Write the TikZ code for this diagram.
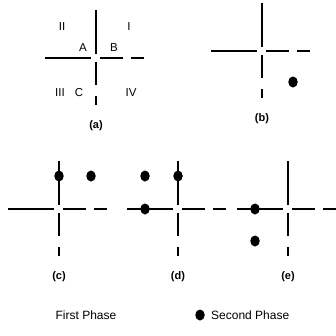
\documentclass[tikz,border=0pt]{standalone}
\usepackage{fontspec}
\setmainfont{Liberation Sans}
\usetikzlibrary{shapes.geometric}

\tikzset{
  arm/.style={line width=1.6pt},
  phasedot/.style={ellipse, fill=black, inner sep=0pt, minimum width=9.5pt, minimum height=11pt},
  quad/.style={font=\fontsize{11.5}{11.5}\selectfont},
  panel/.style={font=\fontsize{11}{11}\selectfont\bfseries},
  legend/.style={font=\fontsize{12}{12}\selectfont}
}

\begin{document}
\begin{tikzpicture}[x=1pt, y=-1pt]
  \useasboundingbox (0,0) rectangle (336,335);
  % the five crosses
  \foreach \cx/\cy/\lab in {96/58/a, 262/51/b, 59/209/c, 178/209/d, 288/209/e} {
    \begin{scope}[shift={(\cx,\cy)}]
      \draw[arm] (0,-48) -- (0,-4);
      \draw[arm] (-51,0) -- (-5,0);
      \draw[arm] (4,0) -- (27,0);
      \draw[arm] (35,0) -- (48,0);
      \draw[arm] (0,4) -- (0,27);
      \draw[arm] (0,38) -- (0,47);
      \node[panel] (lbl-\lab) at (0,68) {(\lab)};
    \end{scope}
  }
  % quadrants of (a)
  \node[quad] (q2) at (62,27) {II};
  \node[quad] (q1) at (129,27) {I};
  \node[quad] (qa) at (83,48) {A};
  \node[quad] (qb) at (114,48) {B};
  \node[quad] (q3) at (60,93) {III};
  \node[quad] (qc) at (79,93) {C};
  \node[quad] (q4) at (131,93) {IV};
  % second phase points
  \node[phasedot] (b1) at (293,82) {};
  \node[phasedot] (c1) at (59,176) {};
  \node[phasedot] (c2) at (91,176) {};
  \node[phasedot] (d1) at (145,176) {};
  \node[phasedot] (d2) at (178,176) {};
  \node[phasedot] (d3) at (145,209) {};
  \node[phasedot] (e1) at (255,209) {};
  \node[phasedot] (e2) at (255,241) {};
  % legend
  \node[legend] (first) at (86,315) {First Phase};
  \node[phasedot] (legdot) at (200,315) {};
  \node[legend, anchor=west, inner sep=0pt] (second) at (211,315) {Second Phase};
\end{tikzpicture}
\end{document}
